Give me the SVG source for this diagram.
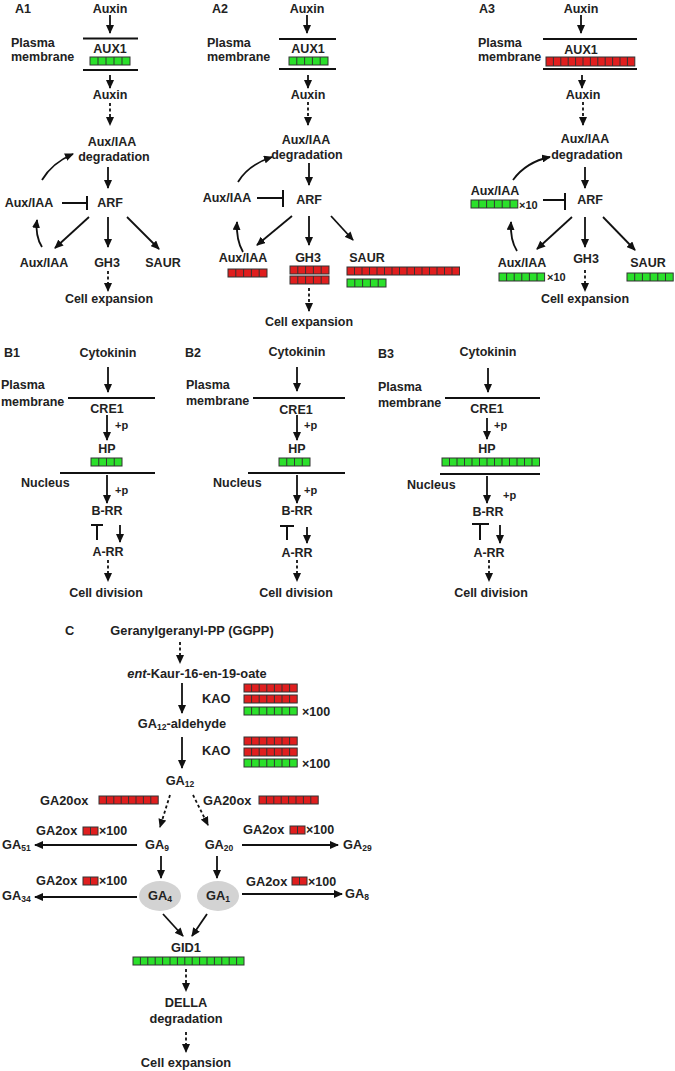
<svg xmlns="http://www.w3.org/2000/svg" width="675" height="1071" viewBox="0 0 675 1071">
<defs>
<marker id="ah" markerUnits="userSpaceOnUse" markerWidth="9" markerHeight="8" refX="8" refY="4" orient="auto"><path d="M0,0 L9,4 L0,8 z" fill="#111"/></marker>
<style>
text{font-family:"Liberation Sans",Arial,sans-serif;font-weight:bold;font-size:12.5px;fill:#222;text-anchor:middle}
.s{text-anchor:start}
.sm{font-size:11px}
.c{font-size:12.8px}
.ln{stroke:#111;stroke-width:2;fill:none}
.ar{stroke:#111;stroke-width:1.8;fill:none;marker-end:url(#ah)}
.da{stroke:#111;stroke-width:1.8;fill:none;stroke-dasharray:3 2.5;marker-end:url(#ah)}
.g{fill:#2be02b;stroke:#333;stroke-width:1}
.r{fill:#e01e1e;stroke:#333;stroke-width:1}
.dv{stroke:#333;stroke-width:1}
.el{fill:#d3d3d3}
</style>
</defs>
<rect width="675" height="1071" fill="#fff"/>

<!-- ===== Panel A1 ===== -->
<g id="A1">
<text class="s" x="15" y="13">A1</text>
<g id="a1-auxin"><text x="110" y="13">Auxin</text></g>
<g id="a1-membrane"><text class="s" x="11" y="47">Plasma</text><text class="s" x="11" y="61">membrane</text>
<path class="ln" d="M83,38.5H138M83,70H138"/></g>
<g id="a1-aux1"><text x="110" y="53">AUX1</text>
<rect class="g" x="90" y="57" width="40" height="8"/><path class="dv" d="M98,57v8M106,57v8M114,57v8M122,57v8"/></g>
<g id="a1-auxin2"><text x="110" y="99">Auxin</text></g>
<g id="a1-deg"><text x="112" y="146">Aux/IAA</text><text x="114" y="161">degradation</text></g>
<g id="a1-arf"><text x="110" y="207">ARF</text></g>
<g id="a1-auxiaa-l"><text x="29" y="207">Aux/IAA</text></g>
<g id="a1-auxiaa-b"><text x="44" y="267">Aux/IAA</text></g>
<g id="a1-gh3"><text x="107" y="267">GH3</text></g>
<g id="a1-saur"><text x="163" y="267">SAUR</text></g>
<g id="a1-cell"><text x="109" y="303">Cell expansion</text></g>
</g>

<!-- ===== Panel A2 ===== -->
<g id="A2">
<text class="s" x="212" y="13">A2</text>
<g id="a2-auxin"><text x="307" y="13">Auxin</text></g>
<g id="a2-membrane"><text class="s" x="207" y="47">Plasma</text><text class="s" x="207" y="61">membrane</text>
<path class="ln" d="M279,39H336M279,69H336"/></g>
<g id="a2-aux1"><text x="308" y="53">AUX1</text>
<rect class="g" x="289" y="57" width="39" height="8"/><path class="dv" d="M296.8,57v8M304.6,57v8M312.4,57v8M320.2,57v8"/></g>
<g id="a2-auxin2"><text x="308" y="99">Auxin</text></g>
<g id="a2-deg"><text x="306" y="144">Aux/IAA</text><text x="307" y="159">degradation</text></g>
<g id="a2-arf"><text x="309" y="204">ARF</text></g>
<g id="a2-auxiaa-l"><text x="227" y="202">Aux/IAA</text></g>
<g id="a2-auxiaa-b"><text x="243" y="262">Aux/IAA</text>
<rect class="r" x="228" y="269" width="39" height="8"/><path class="dv" d="M235.8,269v8M243.6,269v8M251.4,269v8M259.2,269v8"/></g>
<g id="a2-gh3"><text x="308" y="262">GH3</text>
<rect class="r" x="290" y="266" width="39" height="8"/><path class="dv" d="M297.8,266v8M305.6,266v8M313.4,266v8M321.2,266v8"/>
<rect class="r" x="290" y="276" width="39" height="8"/><path class="dv" d="M297.8,276v8M305.6,276v8M313.4,276v8M321.2,276v8"/></g>
<g id="a2-saur"><text x="367" y="262">SAUR</text>
<rect class="r" x="347" y="267" width="112.5" height="8"/><path class="dv" d="M354.5,267v8M362,267v8M369.5,267v8M377,267v8M384.5,267v8M392,267v8M399.5,267v8M407,267v8M414.5,267v8M422,267v8M429.5,267v8M437,267v8M444.5,267v8M452,267v8"/>
<rect class="g" x="347" y="279" width="39" height="8"/><path class="dv" d="M354.8,279v8M362.6,279v8M370.4,279v8M378.2,279v8"/></g>
<g id="a2-cell"><text x="309" y="326">Cell expansion</text></g>
</g>

<!-- ===== Panel A3 ===== -->
<g id="A3">
<text class="s" x="479" y="13">A3</text>
<g id="a3-auxin"><text x="581" y="13">Auxin</text></g>
<g id="a3-membrane"><text class="s" x="478" y="47">Plasma</text><text class="s" x="478" y="61">membrane</text>
<path class="ln" d="M543,39H637M543,69H637"/></g>
<g id="a3-aux1"><text x="581" y="54">AUX1</text>
<rect class="r" x="546" y="57" width="88.8" height="9"/><path class="dv" d="M553.4,57v9M560.8,57v9M568.2,57v9M575.6,57v9M583,57v9M590.4,57v9M597.8,57v9M605.2,57v9M612.6,57v9M620,57v9M627.4,57v9"/></g>
<g id="a3-auxin2"><text x="583" y="99">Auxin</text></g>
<g id="a3-deg"><text x="585" y="143">Aux/IAA</text><text x="587" y="159">degradation</text></g>
<g id="a3-arf"><text x="590" y="204">ARF</text></g>
<g id="a3-auxiaa-l"><text x="495" y="195">Aux/IAA</text>
<rect class="g" x="471" y="200" width="46.8" height="8"/><path class="dv" d="M478.8,200v8M486.6,200v8M494.4,200v8M502.2,200v8M510,200v8"/>
<text class="s sm" x="519" y="209">×10</text></g>
<g id="a3-auxiaa-b"><text x="522" y="267">Aux/IAA</text>
<rect class="g" x="499" y="273" width="45.6" height="8"/><path class="dv" d="M506.6,273v8M514.2,273v8M521.8,273v8M529.4,273v8M537,273v8"/>
<text class="s sm" x="547" y="281">×10</text></g>
<g id="a3-gh3"><text x="586" y="263">GH3</text></g>
<g id="a3-saur"><text x="648" y="267">SAUR</text>
<rect class="g" x="627" y="273" width="46.2" height="8"/><path class="dv" d="M634.7,273v8M642.4,273v8M650.1,273v8M657.8,273v8M665.5,273v8"/></g>
<g id="a3-cell"><text x="585" y="303">Cell expansion</text></g>
</g>

<!-- ===== Panel B1 ===== -->
<g id="B1">
<text class="s" x="4" y="357">B1</text>
<g id="b1-cyt"><text x="108" y="357">Cytokinin</text></g>
<g id="b1-pm"><text class="s" x="1" y="389">Plasma</text><text class="s" x="1" y="406">membrane</text><path class="ln" d="M68,398H155"/></g>
<g id="b1-cre1"><text x="107" y="413">CRE1</text></g>
<g id="b1-hp"><text x="107" y="453">HP</text>
<rect class="g" x="91" y="458" width="31" height="8"/><path class="dv" d="M98.75,458v8M106.5,458v8M114.25,458v8"/></g>
<g id="b1-nuc"><text class="s" x="21" y="487">Nucleus</text><path class="ln" d="M60,473H155"/></g>
<g id="b1-brr"><text x="107" y="515">B-RR</text></g>
<g id="b1-arr"><text x="108" y="556">A-RR</text></g>
<g id="b1-cell"><text x="106" y="597">Cell division</text></g>
<text class="s sm" x="115" y="429">+p</text><text class="s sm" x="115" y="494">+p</text>
</g>

<!-- ===== Panel B2 ===== -->
<g id="B2">
<text class="s" x="185" y="357">B2</text>
<g id="b2-cyt"><text x="297" y="356">Cytokinin</text></g>
<g id="b2-pm"><text class="s" x="186" y="389">Plasma</text><text class="s" x="186" y="405">membrane</text><path class="ln" d="M253,398H345"/></g>
<g id="b2-cre1"><text x="296" y="414">CRE1</text></g>
<g id="b2-hp"><text x="297" y="453">HP</text>
<rect class="g" x="279" y="458" width="31" height="8"/><path class="dv" d="M286.75,458v8M294.5,458v8M302.25,458v8"/></g>
<g id="b2-nuc"><text class="s" x="213" y="487">Nucleus</text><path class="ln" d="M248,473H345"/></g>
<g id="b2-brr"><text x="297" y="515">B-RR</text></g>
<g id="b2-arr"><text x="297" y="557">A-RR</text></g>
<g id="b2-cell"><text x="296" y="597">Cell division</text></g>
<text class="s sm" x="304" y="429">+p</text><text class="s sm" x="304" y="494">+p</text>
</g>

<!-- ===== Panel B3 ===== -->
<g id="B3">
<text class="s" x="378" y="358">B3</text>
<g id="b3-cyt"><text x="488" y="356">Cytokinin</text></g>
<g id="b3-pm"><text class="s" x="378" y="391">Plasma</text><text class="s" x="378" y="407">membrane</text><path class="ln" d="M445,398H540"/></g>
<g id="b3-cre1"><text x="487" y="413">CRE1</text></g>
<g id="b3-hp"><text x="487" y="453">HP</text>
<rect class="g" x="442" y="458" width="97.5" height="8"/><path class="dv" d="M449.5,458v8M457,458v8M464.5,458v8M472,458v8M479.5,458v8M487,458v8M494.5,458v8M502,458v8M509.5,458v8M517,458v8M524.5,458v8M532,458v8"/></g>
<g id="b3-nuc"><text class="s" x="407" y="489">Nucleus</text><path class="ln" d="M440,474H540"/></g>
<g id="b3-brr"><text x="488" y="516">B-RR</text></g>
<g id="b3-arr"><text x="489" y="557">A-RR</text></g>
<g id="b3-cell"><text x="491" y="597">Cell division</text></g>
<text class="s sm" x="494" y="429">+p</text><text class="s sm" x="503" y="499">+p</text>
</g>

<!-- ===== Panel C ===== -->
<g id="C">
<text class="s c" x="65" y="635">C</text>
<g id="c-ggpp"><text class="c" x="192" y="635">Geranylgeranyl-PP (GGPP)</text></g>
<g id="c-kaur"><text class="c" x="197" y="678"><tspan font-style="italic">ent</tspan>-Kaur-16-en-19-oate</text></g>
<g id="c-kao1"><text class="s c" x="202" y="703">KAO</text>
<rect class="r" x="244" y="684" width="53.2" height="8"/><path class="dv" d="M251.6,684v8M259.2,684v8M266.8,684v8M274.4,684v8M282,684v8M289.6,684v8"/>
<rect class="r" x="244" y="695" width="53.2" height="8"/><path class="dv" d="M251.6,695v8M259.2,695v8M266.8,695v8M274.4,695v8M282,695v8M289.6,695v8"/>
<rect class="g" x="244" y="707" width="53.2" height="8"/><path class="dv" d="M251.6,707v8M259.2,707v8M266.8,707v8M274.4,707v8M282,707v8M289.6,707v8"/>
<text class="s" x="302" y="716">×100</text></g>
<g id="c-ga12ald"><text class="c" x="182" y="728">GA<tspan font-size="8.5" dy="2">12</tspan><tspan dy="-2">-aldehyde</tspan></text></g>
<g id="c-kao2"><text class="s c" x="202" y="755">KAO</text>
<rect class="r" x="244" y="737" width="53.2" height="8"/><path class="dv" d="M251.6,737v8M259.2,737v8M266.8,737v8M274.4,737v8M282,737v8M289.6,737v8"/>
<rect class="r" x="244" y="748" width="53.2" height="8"/><path class="dv" d="M251.6,748v8M259.2,748v8M266.8,748v8M274.4,748v8M282,748v8M289.6,748v8"/>
<rect class="g" x="244" y="759" width="53.2" height="8"/><path class="dv" d="M251.6,759v8M259.2,759v8M266.8,759v8M274.4,759v8M282,759v8M289.6,759v8"/>
<text class="s" x="302" y="768">×100</text></g>
<g id="c-ga12"><text class="c" x="180" y="785">GA<tspan font-size="8.5" dy="2">12</tspan></text></g>
<g id="c-ga20ox-l"><text class="s c" x="40" y="805">GA20ox</text>
<rect class="r" x="99" y="796" width="59.2" height="8"/><path class="dv" d="M106.4,796v8M113.8,796v8M121.2,796v8M128.6,796v8M136,796v8M143.4,796v8M150.8,796v8"/></g>
<g id="c-ga20ox-r"><text class="s c" x="203" y="805">GA20ox</text>
<rect class="r" x="259" y="796" width="59.2" height="8"/><path class="dv" d="M266.4,796v8M273.8,796v8M281.2,796v8M288.6,796v8M296,796v8M303.4,796v8M310.8,796v8"/></g>
<g id="c-ga2ox-1"><text class="s c" x="36" y="835">GA2ox</text>
<rect class="r" x="83" y="827" width="15" height="8"/><path class="dv" d="M90.5,827v8"/><text class="s" x="99" y="835">×100</text></g>
<g id="c-ga2ox-2"><text class="s c" x="243" y="834">GA2ox</text>
<rect class="r" x="290" y="826" width="15" height="8"/><path class="dv" d="M297.5,826v8"/><text class="s" x="306" y="834">×100</text></g>
<g id="c-ga2ox-3"><text class="s c" x="36" y="885">GA2ox</text>
<rect class="r" x="83" y="877" width="15" height="8"/><path class="dv" d="M90.5,877v8"/><text class="s" x="99" y="885">×100</text></g>
<g id="c-ga2ox-4"><text class="s c" x="246" y="886">GA2ox</text>
<rect class="r" x="292" y="877" width="15" height="8"/><path class="dv" d="M299.5,877v8"/><text class="s" x="308" y="886">×100</text></g>
<g id="c-ga51"><text class="s c" x="2" y="849">GA<tspan font-size="8.5" dy="2">51</tspan></text></g>
<g id="c-ga9"><text class="c" x="157" y="849">GA<tspan font-size="8.5" dy="2">9</tspan></text></g>
<g id="c-ga20"><text class="c" x="219" y="849">GA<tspan font-size="8.5" dy="2">20</tspan></text></g>
<g id="c-ga29"><text class="s c" x="343" y="849">GA<tspan font-size="8.5" dy="2">29</tspan></text></g>
<g id="c-ga34"><text class="s c" x="2" y="900">GA<tspan font-size="8.5" dy="2">34</tspan></text></g>
<g id="c-ga4"><ellipse class="el" cx="160" cy="896" rx="21" ry="15"/><text class="c" x="160" y="900">GA<tspan font-size="8.5" dy="2">4</tspan></text></g>
<g id="c-ga1"><ellipse class="el" cx="218" cy="896" rx="21" ry="15"/><text class="c" x="218" y="900">GA<tspan font-size="8.5" dy="2">1</tspan></text></g>
<g id="c-ga8"><text class="s c" x="345" y="898">GA<tspan font-size="8.5" dy="2">8</tspan></text></g>
<g id="c-gid1"><text class="c" x="186" y="952">GID1</text>
<rect class="g" x="133" y="957" width="111" height="8"/><path class="dv" d="M140.4,957v8M147.8,957v8M155.2,957v8M162.6,957v8M170,957v8M177.4,957v8M184.8,957v8M192.2,957v8M199.6,957v8M207,957v8M214.4,957v8M221.8,957v8M229.2,957v8M236.6,957v8"/></g>
<g id="c-della"><text class="c" x="186" y="1007">DELLA</text><text class="c" x="186" y="1023">degradation</text></g>
<g id="c-cell"><text class="c" x="186" y="1067">Cell expansion</text></g>
</g>

<!-- ===== Connectors ===== -->
<g id="connectors">
<!-- A1 -->
<path class="ar" d="M110,15V33"/>
<path class="ar" d="M110,75V88"/>
<path class="da" d="M110,103V125"/>
<path class="ar" d="M108,167V188"/>
<path class="ln" d="M62,203H87M87,196V210"/>
<path class="ar" d="M42,180Q52,163 73,154"/>
<path class="ar" d="M89,217L55,248"/>
<path class="ar" d="M108,217V247"/>
<path class="ar" d="M127,217L159,249"/>
<path class="ar" d="M42,247Q35,236 37,220"/>
<path class="da" d="M108,271V291"/>
<!-- A2 -->
<path class="ar" d="M307,15V33"/>
<path class="ar" d="M308,75V88"/>
<path class="da" d="M308,102V125"/>
<path class="ar" d="M309,163V185"/>
<path class="ln" d="M257,198H283M283,190V207"/>
<path class="ar" d="M238,182Q248,165 272,157"/>
<path class="ar" d="M292,216L257,245"/>
<path class="ar" d="M309,216V245"/>
<path class="ar" d="M331,216L353,240"/>
<path class="ar" d="M243,252Q236,240 237,222"/>
<path class="da" d="M309,288V311"/>
<!-- A3 -->
<path class="ar" d="M581,15V33"/>
<path class="ar" d="M582,75V88"/>
<path class="da" d="M583,102V125"/>
<path class="ar" d="M585,167V188"/>
<path class="ln" d="M543,200H565M565,193V210"/>
<path class="ar" d="M513,180Q526,162 550,157"/>
<path class="ar" d="M572,217L537,249"/>
<path class="ar" d="M585,217V247"/>
<path class="ar" d="M603,217L635,250"/>
<path class="ar" d="M517,251Q510,240 511,222"/>
<path class="da" d="M585,270V291"/>
<!-- B1 -->
<path class="ar" d="M108,367V392"/>
<path class="ar" d="M107,415V440"/>
<path class="ar" d="M107,475V503"/>
<path class="ln" d="M97,540V525M91,525H103"/>
<path class="ar" d="M120,525V542"/>
<path class="da" d="M108,560V581"/>
<!-- B2 -->
<path class="ar" d="M297,367V391"/>
<path class="ar" d="M297,415V440"/>
<path class="ar" d="M297,475V503"/>
<path class="ln" d="M287,540V526M280,526H294"/>
<path class="ar" d="M307,527V543"/>
<path class="da" d="M297,560V581"/>
<!-- B3 -->
<path class="ar" d="M488,368V392"/>
<path class="ar" d="M487,418V439"/>
<path class="ar" d="M487,476V503"/>
<path class="ln" d="M480,540V524M472,524H489"/>
<path class="ar" d="M500,525V543"/>
<path class="da" d="M489,560V581"/>
<!-- C -->
<path class="da" d="M180,642V663"/>
<path class="ar" d="M182,683V713"/>
<path class="ar" d="M182,737V768"/>
<path class="da" d="M170,795L160,827"/>
<path class="da" d="M193,795L208,825"/>
<path class="ar" d="M137,845H35"/>
<path class="ar" d="M242,845H338"/>
<path class="ar" d="M161,856V878"/>
<path class="ar" d="M217,856V878"/>
<path class="ar" d="M137,897H35"/>
<path class="ar" d="M242,894H342"/>
<path class="ar" d="M163,914L183,936"/>
<path class="ar" d="M207,914L192,936"/>
<path class="da" d="M186,969V991"/>
<path class="da" d="M186,1032V1052"/>
</g>
</svg>
